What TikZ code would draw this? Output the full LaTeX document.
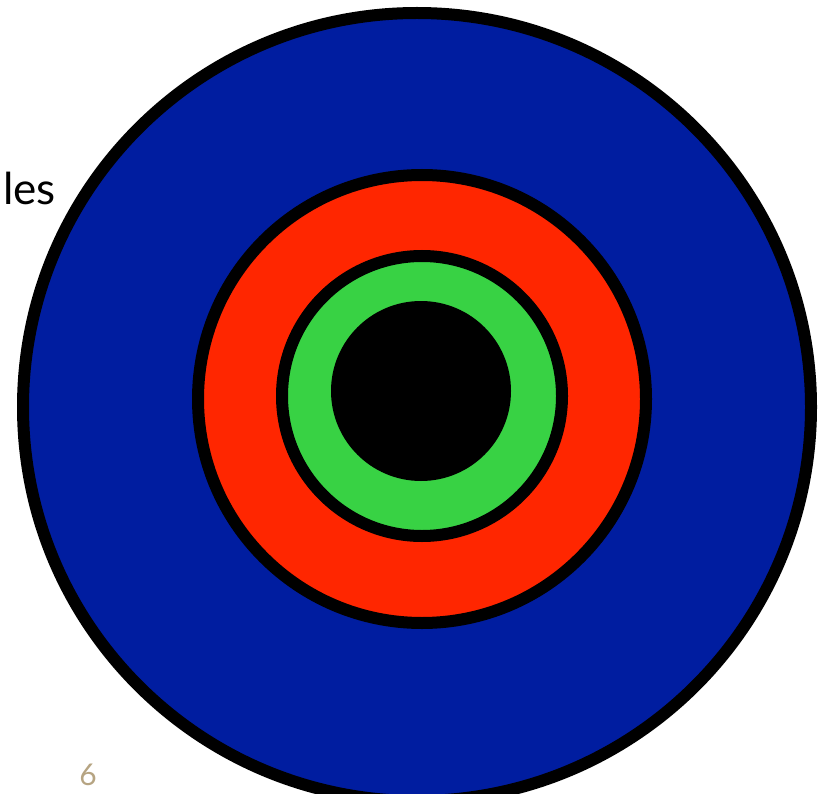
\documentclass[tikz,border=0pt]{standalone}
\usepackage{fontspec}
\setmainfont{Lato}
\usepackage{tikz}
\definecolor{targetblue}{RGB}{0,29,160}
\definecolor{targetred}{RGB}{255,38,0}
\definecolor{targetgreen}{RGB}{56,210,68}
\definecolor{pagetan}{RGB}{182,164,130}
\tikzset{
  ring/.style={
    draw=black,
    line width=12pt
  },
  label/.style={
    inner sep=0pt,
    font=\fontsize{44}{48}\selectfont
  },
  pagenum/.style={
    inner sep=0pt,
    text=pagetan,
    font=\fontsize{30}{34}\selectfont
  }
}
\begin{document}
\begin{tikzpicture}[x=1pt,y=-1pt]
\useasboundingbox (0,0) rectangle (821,794);
\clip (0,0) rectangle (821,794);
% rings, outside in
\draw[ring,fill=targetblue] (417,407) circle[radius=394pt];
\draw[ring,fill=targetred] (422,399) circle[radius=224pt];
\draw[ring,fill=targetgreen] (422,396) circle[radius=140pt];
\fill[black] (421,391) circle[radius=90pt];
% texts
\node[label,anchor=base west] (word) at (3,205) {les};
\node[pagenum,anchor=base] (page) at (88,785) {6};
\end{tikzpicture}
\end{document}
